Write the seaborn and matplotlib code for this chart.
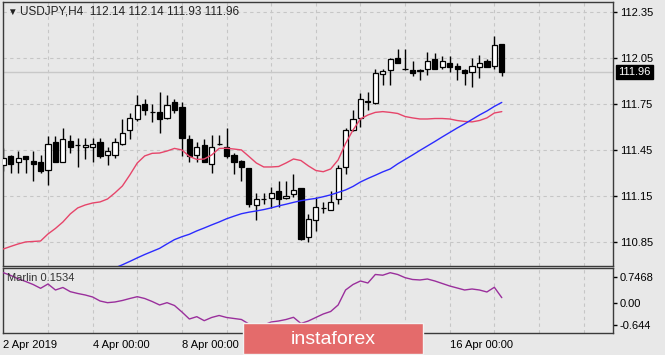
import numpy as np
import pandas as pd
import matplotlib
matplotlib.use("Agg")
import matplotlib.pyplot as plt
import seaborn as sns
from matplotlib.patches import Rectangle

# USDJPY H4 candles, 2 Apr 2019 00:00 onwards (bar index = 4h step)
opens = [111.35, 111.41, 111.37, 111.41, 111.38, 111.37, 111.32, 111.50, 111.37, 111.51,
         111.48, 111.47, 111.47, 111.50, 111.42, 111.42, 111.49, 111.58, 111.65, 111.75,
         111.70, 111.70, 111.66, 111.76, 111.73, 111.52, 111.42, 111.48, 111.36, 111.49,
         111.47, 111.42, 111.38, 111.33, 111.09, 111.13, 111.135, 111.18, 111.135, 111.16,
         111.20, 110.88, 110.99, 111.07, 111.06, 111.13, 111.34, 111.58, 111.66, 111.77,
         111.755, 111.945, 111.97, 112.05, 111.98, 111.97, 111.965, 111.98, 112.04, 111.99,
         112.02, 112.00, 111.97, 111.96, 111.99, 112.03, 112.00, 112.14]
highs = [111.46, 111.42, 111.44, 111.41, 111.44, 111.42, 111.54, 111.54, 111.59, 111.55,
         111.53, 111.53, 111.53, 111.53, 111.47, 111.53, 111.65, 111.69, 111.81, 111.78,
         111.75, 111.83, 111.81, 111.78, 111.76, 111.55, 111.50, 111.52, 111.55, 111.55,
         111.59, 111.43, 111.385, 111.335, 111.17, 111.17, 111.21, 111.25, 111.25, 111.29,
         111.205, 111.03, 111.14, 111.11, 111.18, 111.35, 111.59, 111.71, 111.82, 111.83,
         111.98, 111.98, 112.05, 112.11, 112.11, 112.03, 111.98, 112.09, 112.08, 112.06,
         112.06, 112.015, 111.98, 112.05, 112.07, 112.04, 112.19, 112.14]
lows = [111.31, 111.30, 111.30, 111.30, 111.25, 111.30, 111.22, 111.37, 111.37, 111.43,
        111.34, 111.39, 111.37, 111.40, 111.35, 111.40, 111.48, 111.52, 111.64, 111.68,
        111.63, 111.56, 111.65, 111.69, 111.41, 111.37, 111.37, 111.37, 111.30, 111.485,
        111.40, 111.29, 111.25, 111.08, 110.99, 111.10, 111.07, 111.08, 111.13, 111.145,
        110.865, 110.85, 110.92, 111.04, 111.06, 111.10, 111.29, 111.575, 111.60, 111.71,
        111.75, 111.875, 111.875, 112.015, 111.97, 111.93, 111.905, 111.94, 111.98, 111.98,
        111.96, 111.905, 111.875, 111.86, 111.92, 111.99, 111.98, 111.93]
closes = [111.40, 111.36, 111.40, 111.39, 111.36, 111.31, 111.49, 111.37, 111.52, 111.47,
          111.48, 111.48, 111.49, 111.41, 111.44, 111.50, 111.56, 111.66, 111.74, 111.71,
          111.70, 111.65, 111.74, 111.71, 111.53, 111.41, 111.47, 111.37, 111.47, 111.49,
          111.41, 111.37, 111.34, 111.10, 111.13, 111.13, 111.17, 111.13, 111.15, 111.19,
          110.87, 111.00, 111.08, 111.07, 111.11, 111.33, 111.58, 111.65, 111.78, 111.76,
          111.955, 111.965, 112.04, 112.02, 111.98, 111.95, 111.97, 112.03, 111.98, 112.03,
          111.99, 111.98, 111.955, 112.00, 112.02, 111.99, 112.135, 111.96]

# fast moving average (red)
red_ma = [110.804, 110.821, 110.837, 110.850, 110.853, 110.856, 110.902, 110.938, 110.980, 111.033,
          111.072, 111.091, 111.104, 111.111, 111.130, 111.170, 111.215, 111.287, 111.365, 111.411,
          111.428, 111.430, 111.443, 111.460, 111.450, 111.408, 111.388, 111.391, 111.417, 111.460,
          111.461, 111.456, 111.450, 111.408, 111.365, 111.339, 111.339, 111.342, 111.365, 111.391,
          111.381, 111.346, 111.316, 111.308, 111.326, 111.385, 111.492, 111.580, 111.652, 111.678,
          111.695, 111.700, 111.695, 111.688, 111.668, 111.659, 111.652, 111.652, 111.655, 111.655,
          111.652, 111.642, 111.636, 111.633, 111.642, 111.659, 111.691, 111.700]

# slow moving average (blue), visible from bar 15
blue_start = 15
blue_ma = [110.680, 110.701, 110.723, 110.746, 110.768, 110.788, 110.808, 110.837, 110.865, 110.884,
           110.900, 110.922, 110.941, 110.961, 110.980, 111.001, 111.018, 111.034, 111.044, 111.052,
           111.061, 111.072, 111.085, 111.096, 111.108, 111.119, 111.127, 111.134, 111.145, 111.157,
           111.173, 111.189, 111.212, 111.241, 111.264, 111.285, 111.307, 111.326, 111.359, 111.388,
           111.417, 111.447, 111.476, 111.505, 111.535, 111.564, 111.593, 111.620, 111.649, 111.678,
           111.704, 111.734, 111.760]

marlin = [0.870, 0.790, 0.695, 0.617, 0.531, 0.422, 0.546, 0.373, 0.445, 0.325,
          0.273, 0.230, 0.172, 0.057, 0.009, 0.029, 0.072, 0.129, 0.181, 0.129,
          0.043, -0.057, 0.009, -0.072, -0.258, -0.460, -0.393, -0.508, -0.416, -0.359,
          -0.416, -0.445, -0.474, -0.603, -0.689, -0.632, -0.546, -0.517, -0.474, -0.411,
          -0.589, -0.517, -0.416, -0.316, -0.244, -0.057, 0.373, 0.531, 0.632, 0.574,
          0.819, 0.798, 0.870, 0.819, 0.727, 0.675, 0.661, 0.689, 0.632, 0.560,
          0.488, 0.431, 0.373, 0.402, 0.373, 0.316, 0.451, 0.153]

price_ticks = [112.35, 112.05, 111.75, 111.45, 111.15, 110.85]
marlin_ticks = [0.7468, 0.0, -0.644]
marlin_labels = ["0.7468", "0.00", "-0.644"]
date_ticks = [0, 12, 24, 36, 48, 60]
date_labels = ["2 Apr 2019", "4 Apr 00:00", "8 Apr 00:00", "10 Apr 00:00", "12 Apr 00:00", "16 Apr 00:00"]
last_price = 111.96

df = pd.DataFrame({"bar": np.arange(len(opens)), "open": opens, "high": highs,
                   "low": lows, "close": closes, "red": red_ma, "marlin": marlin})
blue_df = pd.DataFrame({"bar": np.arange(blue_start, blue_start + len(blue_ma)), "blue": blue_ma})

sns.set_theme(style="white")
bg = "#e8e8e8"
grid_c = "#c6c6c6"
plt.rcParams["font.family"] = ["Liberation Sans", "DejaVu Sans"]
plt.rcParams["font.size"] = 8

W, H = 665, 355
fig = plt.figure(figsize=(W / 100, H / 100), dpi=100, facecolor=bg)
ax = fig.add_axes([3 / W, 89 / H, 610 / W, 264 / H], facecolor=bg)
ax2 = fig.add_axes([3 / W, 22 / H, 610 / W, 65 / H], facecolor=bg)

xmin, xmax = -0.05, 81.95

# candles
up = df["close"] >= df["open"]
ax.vlines(df["bar"], df["low"], df["high"], color="black", lw=1, zorder=2)
ax.bar(df["bar"][up], (df["close"] - df["open"])[up], bottom=df["open"][up], width=0.7,
       color="white", edgecolor="black", lw=0.9, zorder=3)
ax.bar(df["bar"][~up], (df["close"] - df["open"])[~up], bottom=df["open"][~up], width=0.7,
       color="black", edgecolor="black", lw=0.9, zorder=3)

sns.lineplot(data=df, x="bar", y="red", color="#e6456a", lw=1, ax=ax, zorder=4)
sns.lineplot(data=blue_df, x="bar", y="blue", color="#2b2bff", lw=1, ax=ax, zorder=4)
ax.axhline(last_price, color="#c8c8c8", lw=1, zorder=1)

ax.set_xlim(xmin, xmax)
ax.set_ylim(110.693, 112.415)
ax.set_yticks(price_ticks)
ax.set_yticklabels([f"{t:.2f}" for t in price_ticks])
ax.set_xticks(date_ticks)
ax.set_xticks(np.arange(6, 82, 6), minor=True)
ax.tick_params(axis="x", which="both", length=0, labelbottom=False)
ax.yaxis.tick_right()
ax.tick_params(axis="y", length=3, width=1, pad=2, colors="black", labelsize=8, direction="out")
ax.grid(True, which="both", axis="x", ls=(0, (3, 3)), color=grid_c, lw=0.8)
ax.grid(True, which="major", axis="y", ls=(0, (3, 3)), color=grid_c, lw=0.8)
ax.set_xlabel("")
ax.set_ylabel("")

ax.annotate(f"{last_price:.2f}", xy=(1, last_price), xycoords=("axes fraction", "data"),
            xytext=(4, 0), textcoords="offset points", va="center", ha="left",
            color="white", fontsize=8,
            bbox=dict(boxstyle="square,pad=0.2", fc="black", ec="black"), annotation_clip=False)

# indicator panel
sns.lineplot(data=df, x="bar", y="marlin", color="#9a2f9c", lw=1, ax=ax2, zorder=3)
ax2.set_xlim(xmin, xmax)
ax2.set_ylim(-0.862, 1.005)
ax2.set_yticks(marlin_ticks)
ax2.set_yticklabels(marlin_labels)
ax2.yaxis.tick_right()
ax2.tick_params(axis="y", length=3, width=1, pad=2, colors="black", labelsize=8, direction="out")
ax2.set_xticks(date_ticks)
ax2.set_xticklabels(date_labels, ha="left")
ax2.set_xticks(np.arange(6, 82, 6), minor=True)
ax2.tick_params(axis="x", which="major", length=3, width=1, pad=2, colors="black",
                labelsize=8, direction="out")
ax2.tick_params(axis="x", which="minor", length=0)
ax2.grid(True, which="both", axis="x", ls=(0, (3, 3)), color=grid_c, lw=0.8)
ax2.set_yticks([0.0], minor=True)
ax2.grid(True, which="minor", axis="y", ls=(0, (3, 3)), color=grid_c, lw=0.8)
ax2.set_xlabel("")
ax2.set_ylabel("")

for a in (ax, ax2):
    for s in a.spines.values():
        s.set_color("#3a3a3a")
        s.set_linewidth(1)
        s.set_visible(True)

fig.text(7 / W, 1 - 12 / H, "▼", fontsize=7, va="center", ha="left", color="#222222")
fig.text(20 / W, 1 - 12 / H, "USDJPY,H4  112.14 112.14 111.93 111.96", fontsize=8.5,
         va="center", ha="left", color="#222222")
fig.text(7 / W, 1 - 278 / H, "Marlin 0.1534", fontsize=8, va="center", ha="left", color="#333333")

# instaforex watermark
logo = Rectangle((243 / W, 1 - 354 / H), 180 / W, 31 / H, transform=fig.transFigure,
                 fc="#e46b6b", ec="#f2f2f2", lw=1, zorder=10)
fig.add_artist(logo)
fig.text(333 / W, 1 - 340 / H, "instaforex", fontsize=14, color="white",
         ha="center", va="center", zorder=11)

fig.savefig("out.png", dpi=100, facecolor=bg)
